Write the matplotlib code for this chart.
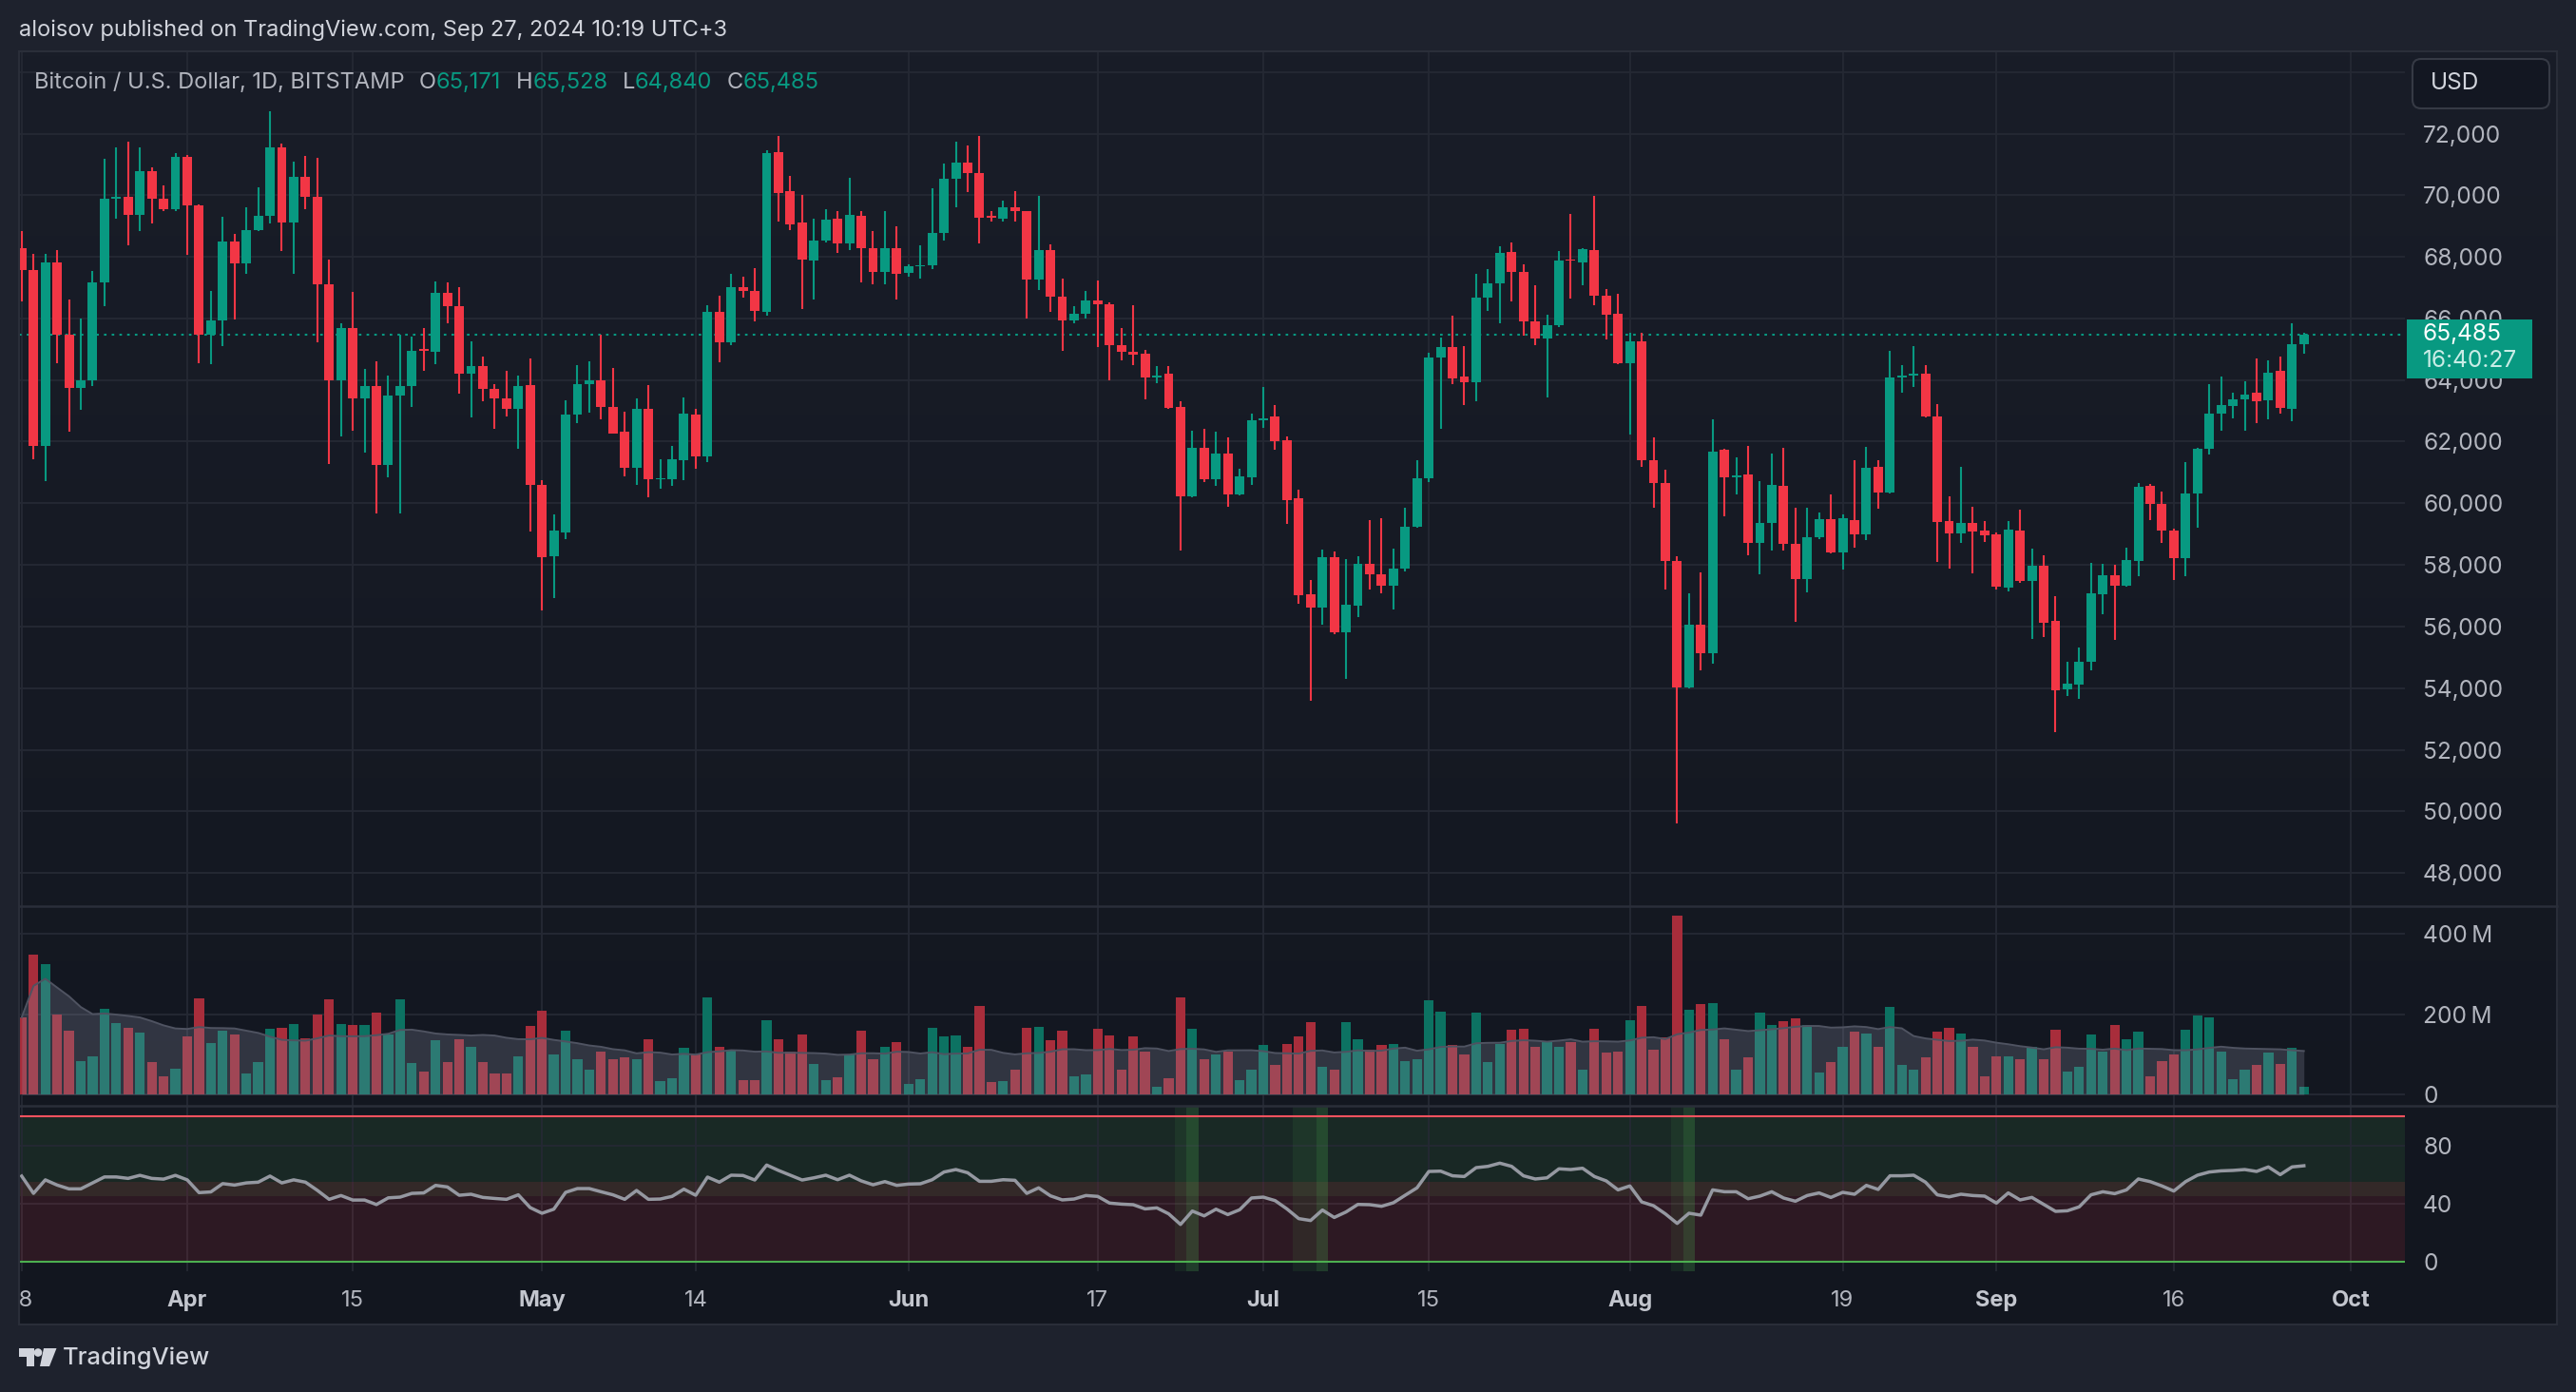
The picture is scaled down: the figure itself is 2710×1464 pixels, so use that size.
import numpy as np
import pandas as pd
import matplotlib
matplotlib.use('Agg')
import matplotlib.pyplot as plt
import matplotlib.transforms as mtransforms
from matplotlib.patches import Rectangle, FancyBboxPatch, Polygon, Circle
from matplotlib.lines import Line2D

plt.rcParams['font.family'] = ['Inter', 'DejaVu Sans']

# ---- data (BTC/USD daily, Bitstamp) ----
start_date = pd.Timestamp('2024-03-18')

opens = [68290, 67560, 61850, 67830, 65460, 63750, 63980, 67170, 69880, 69950,
         69370, 70780, 69880, 69560, 71240, 69660, 65460, 65950, 68490, 67800,
         68880, 69320, 71560, 69100, 70590, 69950, 67100, 64000, 65700, 63390,
         63800, 61240, 63490, 63800, 64980, 64915, 66830, 66400, 64220, 64460,
         63710, 63410, 63060, 63850, 60590, 58270, 59050, 62890, 63880, 64000,
         63120, 62310, 61160, 63050, 60770, 60770, 61410, 62890, 61520, 66220,
         65210, 67020, 66900, 66200, 71390, 70130, 69110, 67870, 68530, 69250,
         68420, 69330, 68290, 67520, 68290, 67490, 67680, 67710, 68760, 70520,
         71070, 70730, 69300, 69250, 69600, 69470, 67270, 68210, 66710, 65950,
         66140, 66580, 66450, 65120, 64920, 64840, 64070, 64220, 63140, 60230,
         61790, 60770, 61600, 60280, 60830, 62680, 62810, 62040, 60150, 57040,
         56620, 58250, 55820, 56680, 58030, 57690, 57330, 57880, 59230, 60800,
         64740, 65060, 64100, 63940, 66690, 67150, 68170, 67520, 65900, 65340,
         65780, 67890, 67820, 68230, 66740, 66160, 64550, 65260, 61400, 60660,
         58140, 54010, 56050, 55130, 61730, 60850, 60920, 58710, 59350, 60580,
         58690, 57550, 58900, 59480, 58410, 59450, 58990, 61180, 60340, 64070,
         64130, 64220, 62810, 59420, 59020, 59350, 59100, 58980, 57260, 59100,
         57480, 57970, 56180, 53950, 54120, 54860, 57040, 57660, 57330, 58130,
         60560, 59970, 59100, 58210, 60310, 61760, 62920, 63170, 63360, 63580,
         63330, 64290, 63080, 65171]
highs = [68850, 68100, 68100, 68220, 66600, 66000, 67540, 71170, 71540, 71730,
         71540, 70900, 70320, 71370, 71300, 69700, 66900, 69290, 68730, 69610,
         70270, 72710, 71680, 71100, 71270, 71200, 67900, 65830, 66850, 64370,
         64610, 64150, 65460, 65420, 65700, 67210, 67180, 67020, 65260, 64770,
         63880, 64290, 64160, 64710, 60750, 59640, 63330, 64490, 64620, 65460,
         64380, 62980, 63390, 63850, 61440, 61850, 63420, 63050, 66440, 66740,
         67460, 67370, 67630, 71450, 71920, 70620, 70000, 69240, 69550, 69490,
         70570, 69490, 68840, 69490, 69000, 67770, 68370, 70220, 71040, 71730,
         71610, 71920, 69500, 69820, 70130, 69500, 69970, 68390, 67300, 66410,
         66890, 67240, 66520, 65700, 66440, 64990, 64460, 64460, 63300, 62370,
         62430, 62310, 62150, 61110, 62920, 63780, 63200, 62180, 60440, 57500,
         58490, 58430, 58200, 58270, 59450, 59510, 58520, 59840, 61410, 64900,
         65390, 66090, 65090, 67460, 67600, 68340, 68470, 67760, 67080, 66120,
         68200, 69390, 68280, 69970, 66960, 66800, 65540, 65540, 62150, 61080,
         58270, 57080, 57750, 62720, 61760, 61480, 61850, 60710, 61600, 61790,
         59840, 59840, 59700, 60280, 59640, 61410, 61820, 61410, 64960, 64490,
         65090, 64490, 63230, 60220, 61180, 59900, 59420, 59040, 59420, 59790,
         58520, 58300, 56980, 54860, 55310, 58070, 58030, 58000, 58550, 60670,
         60640, 60370, 59170, 61330, 61790, 63880, 64100, 63580, 63970, 64710,
         64650, 64770, 65830, 65528]
lows = [66560, 61440, 60730, 64540, 62320, 63020, 63800, 66390, 69240, 68370,
        68850, 69070, 69500, 69500, 68050, 64540, 64510, 65100, 65980, 67460,
        68850, 69070, 68200, 67460, 69540, 65220, 61290, 62170, 62340, 61630,
        59660, 60830, 59660, 63120, 64290, 64520, 65840, 63550, 62780, 63310,
        62420, 62810, 61760, 59090, 56510, 56930, 58850, 62590, 62940, 62720,
        62250, 60860, 60610, 60200, 60470, 60580, 60740, 61130, 61330, 64580,
        65130, 66670, 65900, 66080, 69130, 68860, 66310, 66600, 68480, 68120,
        68210, 67180, 67100, 67100, 66600, 67370, 67290, 67590, 68540, 69600,
        70110, 68450, 69130, 69130, 69160, 66010, 66910, 66220, 64950, 65840,
        66000, 65060, 64000, 64650, 64490, 63360, 63910, 63080, 58470, 60200,
        60690, 60580, 59900, 60250, 60610, 62460, 61730, 59320, 56750, 53590,
        56050, 55740, 54310, 56310, 57190, 57090, 56560, 57780, 59200, 60690,
        62430, 63880, 63200, 63300, 66250, 65840, 66560, 65430, 65140, 63420,
        65720, 66640, 67070, 66440, 65310, 64510, 62230, 61180, 59840, 57190,
        49610, 53990, 54580, 54780, 59570, 60280, 58300, 57700, 58460, 58460,
        56150, 57120, 58830, 58380, 57850, 58550, 58820, 59810, 60320, 63580,
        63780, 62780, 58100, 57880, 58710, 57720, 58740, 57200, 57140, 57420,
        55600, 55660, 52570, 53750, 53650, 54580, 56400, 55570, 57300, 57630,
        59450, 58710, 57500, 57630, 59200, 61570, 62340, 62750, 62370, 62590,
        62720, 62920, 62650, 64840]
closes = [67560, 61850, 67830, 65460, 63750, 63980, 67170, 69880, 69950, 69370,
          70780, 69880, 69560, 71240, 69660, 65460, 65950, 68490, 67800, 68880,
          69320, 71560, 69100, 70590, 69950, 67100, 64000, 65700, 63390, 63800,
          61240, 63490, 63800, 64960, 64950, 66830, 66390, 64220, 64460, 63710,
          63410, 63060, 63820, 60590, 58240, 59100, 62890, 63880, 64000, 63120,
          62270, 61160, 63050, 60770, 60820, 61440, 62920, 61520, 66220, 65210,
          67020, 66900, 66230, 71360, 70080, 69060, 67900, 68530, 69220, 68450,
          69360, 68290, 67520, 68290, 67440, 67680, 67740, 68760, 70520, 71070,
          70730, 69280, 69270, 69600, 69470, 67270, 68210, 66710, 65950, 66140,
          66580, 66450, 65120, 64920, 64810, 64070, 64160, 63110, 60230, 61790,
          60770, 61600, 60280, 60860, 62680, 62750, 62010, 60090, 57010, 56620,
          58250, 55820, 56710, 58030, 57690, 57330, 57880, 59230, 60800, 64740,
          65060, 64040, 63930, 66690, 67150, 68140, 67520, 65900, 65340, 65780,
          67880, 67870, 68260, 66740, 66120, 64550, 65260, 61400, 60660, 58140,
          54010, 56050, 55130, 61690, 60850, 60900, 58710, 59350, 60610, 58690,
          57550, 58900, 59480, 58410, 59510, 58990, 61140, 60340, 64070, 64130,
          64210, 62810, 59380, 59020, 59350, 59070, 58950, 57300, 59130, 57480,
          57970, 56120, 53930, 54150, 54860, 57080, 57660, 57330, 58160, 60530,
          59970, 59100, 58210, 60310, 61760, 62920, 63200, 63360, 63530, 63300,
          64250, 63110, 65150, 65485]

# volume in millions
volume_m = [192, 349, 324, 200, 158, 84, 95, 213, 177, 166,
            154, 82, 46, 65, 145, 240, 128, 160, 150, 53,
            82, 164, 166, 175, 141, 200, 238, 175, 173, 173,
            204, 150, 238, 78, 58, 135, 82, 137, 120, 80,
            53, 53, 96, 171, 209, 101, 159, 89, 61, 106,
            87, 92, 87, 139, 34, 41, 116, 99, 242, 118,
            113, 37, 37, 185, 139, 108, 149, 77, 37, 44,
            99, 159, 87, 120, 130, 27, 39, 166, 144, 147,
            120, 221, 32, 34, 61, 166, 168, 135, 159, 46,
            51, 163, 147, 63, 144, 108, 20, 41, 242, 163,
            87, 99, 108, 37, 61, 123, 73, 125, 144, 180,
            70, 63, 180, 139, 111, 123, 125, 84, 89, 235,
            206, 123, 99, 204, 82, 127, 161, 163, 120, 132,
            120, 130, 61, 163, 104, 108, 185, 221, 113, 142,
            445, 211, 225, 228, 137, 63, 92, 204, 173, 182,
            190, 173, 56, 82, 120, 156, 151, 118, 218, 75,
            61, 94, 156, 166, 151, 120, 46, 96, 96, 87,
            120, 87, 161, 58, 70, 149, 108, 173, 139, 156,
            46, 84, 101, 161, 197, 192, 106, 39, 61, 73,
            104, 77, 116, 20]

rsi = [58.8, 46.9, 56.2, 52.6, 50.0, 50.0, 54.1, 58.2, 58.2, 57.2,
       59.3, 57.2, 56.7, 59.3, 56.2, 47.4, 47.9, 53.6, 52.6, 54.1,
       54.6, 58.8, 54.1, 56.2, 54.6, 49.0, 42.8, 45.4, 42.3, 42.3,
       39.2, 43.8, 44.3, 46.9, 47.2, 52.4, 51.3, 45.6, 46.3, 44.1,
       43.4, 42.8, 45.9, 37.1, 33.2, 36.0, 47.6, 50.2, 50.2, 48.0,
       45.9, 42.8, 48.9, 42.8, 43.0, 44.8, 49.8, 45.6, 58.1, 54.6,
       59.4, 59.2, 56.1, 66.4, 62.7, 59.4, 56.1, 57.6, 59.4, 56.3,
       59.4, 55.5, 52.8, 55.0, 52.4, 53.3, 53.5, 56.3, 61.6, 63.3,
       61.1, 55.2, 55.2, 56.3, 55.9, 46.9, 50.7, 45.2, 42.4, 43.0,
       45.4, 44.8, 40.2, 39.5, 39.1, 36.2, 36.9, 32.8, 25.5, 34.7,
       31.4, 36.0, 32.3, 35.6, 43.7, 44.3, 41.9, 36.2, 29.5, 28.2,
       35.4, 30.3, 34.1, 39.3, 39.1, 38.0, 40.4, 45.6, 50.7, 62.0,
       62.2, 59.0, 58.5, 64.6, 65.5, 67.7, 65.5, 59.0, 56.8, 57.6,
       63.8, 63.3, 64.2, 58.5, 55.5, 49.3, 52.0, 41.0, 38.4, 32.8,
       26.2, 33.2, 31.9, 49.3, 48.0, 48.0, 43.2, 45.0, 48.0, 43.7,
       41.5, 45.4, 47.2, 44.1, 47.6, 46.3, 52.4, 49.6, 59.0, 59.0,
       59.4, 54.6, 45.9, 44.5, 46.3, 45.4, 45.0, 40.2, 47.2, 42.4,
       44.1, 39.3, 34.5, 34.9, 37.6, 45.9, 48.0, 46.7, 49.3, 56.8,
       55.0, 52.0, 48.5, 55.0, 59.4, 61.6, 62.4, 62.7, 63.3, 62.0,
       65.1, 59.8, 65.1, 65.9]

# days with highlighted background in the RSI pane
rsi_low_days = ['2024-06-24', '2024-07-04', '2024-07-05', '2024-08-05']
rsi_exit_days = ['2024-06-25', '2024-07-06', '2024-08-06']

tick_dates = ['2024-03-18', '2024-04-01', '2024-04-15', '2024-05-01', '2024-05-14',
              '2024-06-01', '2024-06-17', '2024-07-01', '2024-07-15', '2024-08-01',
              '2024-08-19', '2024-09-01', '2024-09-16', '2024-10-01']
tick_labels = ['18', 'Apr', '15', 'May', '14', 'Jun', '17', 'Jul', '15', 'Aug',
               '19', 'Sep', '16', 'Oct']

price_ticks = list(range(48000, 74001, 2000))
vol_ticks = [0, 200, 400]
vol_tick_labels = ['0', '200\u2009M', '400\u2009M']
rsi_ticks = [0, 40, 80]
countdown = '16:40:27'

n = len(closes)
assert len(opens) == len(highs) == len(lows) == n == len(volume_m) == len(rsi)

def day_index(d):
    return (pd.Timestamp(d) - start_date).days

x = np.arange(n)
o = np.array(opens, float)
h = np.array(highs, float)
l = np.array(lows, float)
c = np.array(closes, float)
up = c >= o

# ---- colours ----
UP = '#089981'
DOWN = '#f23645'
GRID = '#252934'
TXT = '#b2b5be'
OUTER = '#1e222d'
AXIS_FS = 17.6

# ---- layout in pixels ----
W, H = 2710, 1464
fig = plt.figure(figsize=(W / 100, H / 100), dpi=100)
fig.patch.set_facecolor(OUTER)

def add_px_axes(x0, y0, x1, y1, zorder=1):
    a = fig.add_axes([x0 / W, 1 - y1 / H, (x1 - x0) / W, (y1 - y0) / H], zorder=zorder)
    a.set_facecolor('none')
    for s in a.spines.values():
        s.set_visible(False)
    return a

X0_PX, DAY_PX = 22.8, 12.44
PLOT_L, PLOT_R = 20, 2530
xlim = ((PLOT_L - X0_PX) / DAY_PX, (PLOT_R - X0_PX) / DAY_PX)

# background gradient of the chart panel
under = add_px_axes(0, 0, W, H, zorder=-5)
under.set_xlim(0, W)
under.set_ylim(H, 0)
under.axis('off')
top_col = np.array([25, 29, 40]) / 255
bot_col = np.array([18, 22, 31]) / 255
t = np.linspace(0, 1, 256)[:, None, None]
grad = top_col * (1 - t) + bot_col * t
grad = np.repeat(grad, 2, axis=1)
under.imshow(grad, extent=(20, 2690, 1393, 54), aspect='auto', zorder=0)

# ---- price pane ----
P_Y0, P_Y1 = 54, 953
PPX = 0.0324
def px_to_price(y):
    return 72000 - (y - 140.5) / PPX

ax = add_px_axes(PLOT_L, P_Y0, PLOT_R, P_Y1)
ax.set_xlim(*xlim)
ax.set_ylim(px_to_price(P_Y1), px_to_price(P_Y0))
ax.set_axisbelow(True)
ax.set_yticks(price_ticks)
ax.set_yticklabels(['' if v > 72000 else f'{v:,}' for v in price_ticks])
ax.yaxis.tick_right()
ax.set_xticks([day_index(d) for d in tick_dates])
ax.set_xticklabels([])
ax.tick_params(axis='y', length=0, pad=13.7, labelsize=AXIS_FS, labelcolor=TXT)
ax.tick_params(axis='x', length=0)
ax.grid(True, color=GRID, lw=1.3)

body_lo = np.minimum(o, c)
body_h = np.maximum(np.abs(c - o), 45)
cols = np.where(up, UP, DOWN)
ax.vlines(x, l, h, colors=cols, lw=1.5, zorder=2)
ax.bar(x, body_h, bottom=body_lo, width=0.8, color=cols, lw=0, zorder=3)

last = closes[-1]
ax.axhline(last, color=UP, lw=1.5, ls=(0, (1.3, 2.6)), zorder=1.8)

# last price label on the scale (covers part of the 66,000 / 64,000 labels)
bt = mtransforms.blended_transform_factory(ax.transAxes, ax.transData)
bx0 = (2532 - PLOT_L) / (PLOT_R - PLOT_L)
bw = 132 / (PLOT_R - PLOT_L)
ax.add_patch(Rectangle((bx0, last - 46.4 / PPX), bw, 62 / PPX, transform=bt,
                       color=UP, lw=0, clip_on=False, zorder=10))
tx = (2549 - PLOT_L) / (PLOT_R - PLOT_L)
ax.text(tx, last, f'{last:,}', transform=bt, color='white', fontsize=AXIS_FS,
        va='center', ha='left', clip_on=False, zorder=11)
ax.text(tx, last - 28.4 / PPX, countdown, transform=bt, color='#c9ece6', fontsize=AXIS_FS,
        va='center', ha='left', clip_on=False, zorder=11)

# ---- volume pane ----
V_Y0, V_Y1 = 953, 1163
VPX = 0.423
vax = add_px_axes(PLOT_L, V_Y0, PLOT_R, V_Y1)
vax.set_xlim(*xlim)
vax.set_ylim(-(V_Y1 - 1151.3) / VPX, (1151.3 - V_Y0) / VPX)
vax.set_axisbelow(True)
vax.set_yticks(vol_ticks)
vax.set_yticklabels(vol_tick_labels)
vax.yaxis.tick_right()
vax.set_xticks([day_index(d) for d in tick_dates])
vax.set_xticklabels([])
vax.tick_params(axis='y', length=0, pad=13.7, labelsize=AXIS_FS, labelcolor=TXT)
vax.tick_params(axis='x', length=0)
vax.grid(True, color=GRID, lw=1.3)
vcols = np.where(up, '#0c7262', '#a82d3b')
vax.bar(x, volume_m, width=0.82, color=vcols, lw=0, zorder=2)
vol_ma = pd.Series(volume_m, dtype=float).rolling(20, min_periods=1).mean()
vax.fill_between(x, 0, vol_ma, color='#8c92a6', alpha=0.25, lw=0, zorder=3)
vax.plot(x, vol_ma, color='#4f5361', lw=1.4, zorder=4)

# ---- RSI pane ----
R_Y0, R_Y1 = 1163, 1337
RPX = 1.527
rax = add_px_axes(PLOT_L, R_Y0, PLOT_R, R_Y1)
rax.set_xlim(*xlim)
rax.set_ylim(-(R_Y1 - 1326.7) / RPX, (1326.7 - R_Y0) / RPX)
rax.set_axisbelow(True)
rax.set_yticks(rsi_ticks)
rax.yaxis.tick_right()
rax.set_xticks([day_index(d) for d in tick_dates])
rax.set_xticklabels([])
rax.tick_params(axis='y', length=0, pad=13.7, labelsize=AXIS_FS, labelcolor=TXT)
rax.tick_params(axis='x', length=0)
rax.grid(True, color=GRID, lw=1.3)
rax.axhspan(45, 100, color='#4caf50', alpha=0.12, lw=0, zorder=0.5)
rax.axhspan(0, 55, color='#f23645', alpha=0.12, lw=0, zorder=0.6)
for d in rsi_low_days:
    i = day_index(d)
    rax.axvspan(i - 0.5, i + 0.5, color='#4caf50', alpha=0.1, lw=0, zorder=0.7)
for d in rsi_exit_days:
    i = day_index(d)
    rax.axvspan(i - 0.5, i + 0.5, color='#4caf50', alpha=0.25, lw=0, zorder=0.7)
rax.axhline(100, color='#f7525f', lw=1.5, zorder=2)
rax.axhline(0, color='#4caf50', lw=1.5, zorder=2)
rax.plot(x, rsi, color='#9598a1', lw=2.5, zorder=3, solid_joinstyle='round')

# ---- time axis ----
tax = add_px_axes(PLOT_L, R_Y1, PLOT_R, 1393)
tax.set_xlim(*xlim)
tax.set_ylim(0, 1)
tax.axis('off')
tt = mtransforms.blended_transform_factory(tax.transData, tax.transAxes)
for d, lab in zip(tick_dates, tick_labels):
    bold = not lab.isdigit()
    tax.text(day_index(d), 0.44, lab, transform=tt, ha='center', va='center',
             fontsize=17, color='#c3c6ce' if bold else TXT,
             fontweight='bold' if bold else 'normal', clip_on=True)

# ---- overlay: frame, header, legend, logo ----
ov = add_px_axes(0, 0, W, H, zorder=20)
ov.set_xlim(0, W)
ov.set_ylim(H, 0)
ov.axis('off')

ov.add_patch(Rectangle((20, 54), 2670, 1339, fill=False, ec='#2a2e39', lw=1.5))
ov.add_line(Line2D([20, 2690], [953, 953], color='#2a2e39', lw=1.8))
ov.add_line(Line2D([20, 2690], [1163, 1163], color='#2a2e39', lw=1.8))

ov.text(20, 32, 'aloisov published on TradingView.com, Sep 27, 2024 10:19 UTC+3',
        fontsize=17, color='#d1d4dc', va='center', ha='left')

prev = ov.text(36, 87, 'Bitcoin / U.S. Dollar, 1D, BITSTAMP', fontsize=17,
               color=TXT, va='center', ha='left')
legend_parts = [('O', opens[-1]), ('H', highs[-1]), ('L', lows[-1]), ('C', closes[-1])]
for key, val in legend_parts:
    prev = ov.annotate(key, xy=(1, 0.5), xycoords=prev, xytext=(11, 0),
                       textcoords='offset points', fontsize=17, color=TXT,
                       va='center', ha='left')
    prev = ov.annotate(f'{val:,}', xy=(1, 0.5), xycoords=prev, xytext=(0, 0),
                       textcoords='offset points', fontsize=17, color=UP,
                       va='center', ha='left')

# currency box
ov.add_patch(FancyBboxPatch((2538, 62), 144, 52, boxstyle='round,pad=0,rounding_size=9',
                            fc='#131722', ec='#363a45', lw=1.5))
ov.text(2557, 88, 'USD', fontsize=AXIS_FS, color='#d1d4dc', va='center', ha='left')

# TradingView logo
logo = '#d1d4dc'
ov.add_patch(Rectangle((20, 1418), 16, 9, color=logo, lw=0))
ov.add_patch(Rectangle((28, 1418), 8, 19, color=logo, lw=0))
ov.add_patch(Circle((40, 1422.5), 4.3, color=logo, lw=0))
ov.add_patch(Polygon([(46, 1418), (59.5, 1418), (52, 1437), (42, 1437)], closed=True,
                     color=logo, lw=0))
ov.text(66, 1428, 'TradingView', fontsize=18.3, color=logo, va='center', ha='left',
        fontweight='medium')

fig.savefig('out.png', dpi=100, facecolor=fig.get_facecolor())
